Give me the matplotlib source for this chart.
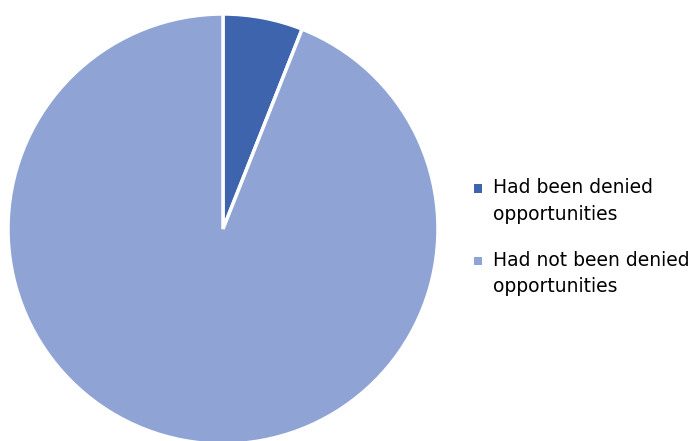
import matplotlib
matplotlib.use('Agg')
import matplotlib.pyplot as plt
from matplotlib.patches import Patch, Rectangle
from matplotlib.legend_handler import HandlerPatch

# ---------- Data ----------------------------------------------
labels = ['Had been denied\nopportunities', 'Had not been denied\nopportunities']
values = [6, 94]
colors = ['#3d64ad', '#8fa4d4']


# square marker lined up with the first text line
def top_square(legend, orig_handle, xdescent, ydescent, width, height, fontsize):
    s = 0.46 * fontsize
    return Rectangle((-xdescent + (width - s) / 2,
                      -ydescent + (height - s) / 2 + 0.72 * fontsize), s, s)


# ---------- Plot ----------------------------------------------
fig = plt.figure(figsize=(7, 4.41), dpi=100)
ax = fig.add_axes([8 / 700, -3 / 441, 430 / 700, 430 / 441])

ax.pie(values, colors=colors, startangle=90, counterclock=False,
       wedgeprops={'edgecolor': 'white', 'linewidth': 2.5})
ax.set_xlim(-1, 1)
ax.set_ylim(-1, 1)
ax.set_aspect('equal')

handles = [Patch(facecolor=c, edgecolor='none') for c in colors]
lgd = fig.legend(handles, labels, loc='center left', bbox_to_anchor=(457 / 700, 0.462),
                 frameon=False, fontsize=13.5, handlelength=0.45, handleheight=0.45,
                 handletextpad=0.55, labelspacing=1.45,
                 handler_map={Patch: HandlerPatch(patch_func=top_square)})
for t in lgd.get_texts():
    t.set_linespacing(1.5)

fig.savefig('out.png', dpi=100)
